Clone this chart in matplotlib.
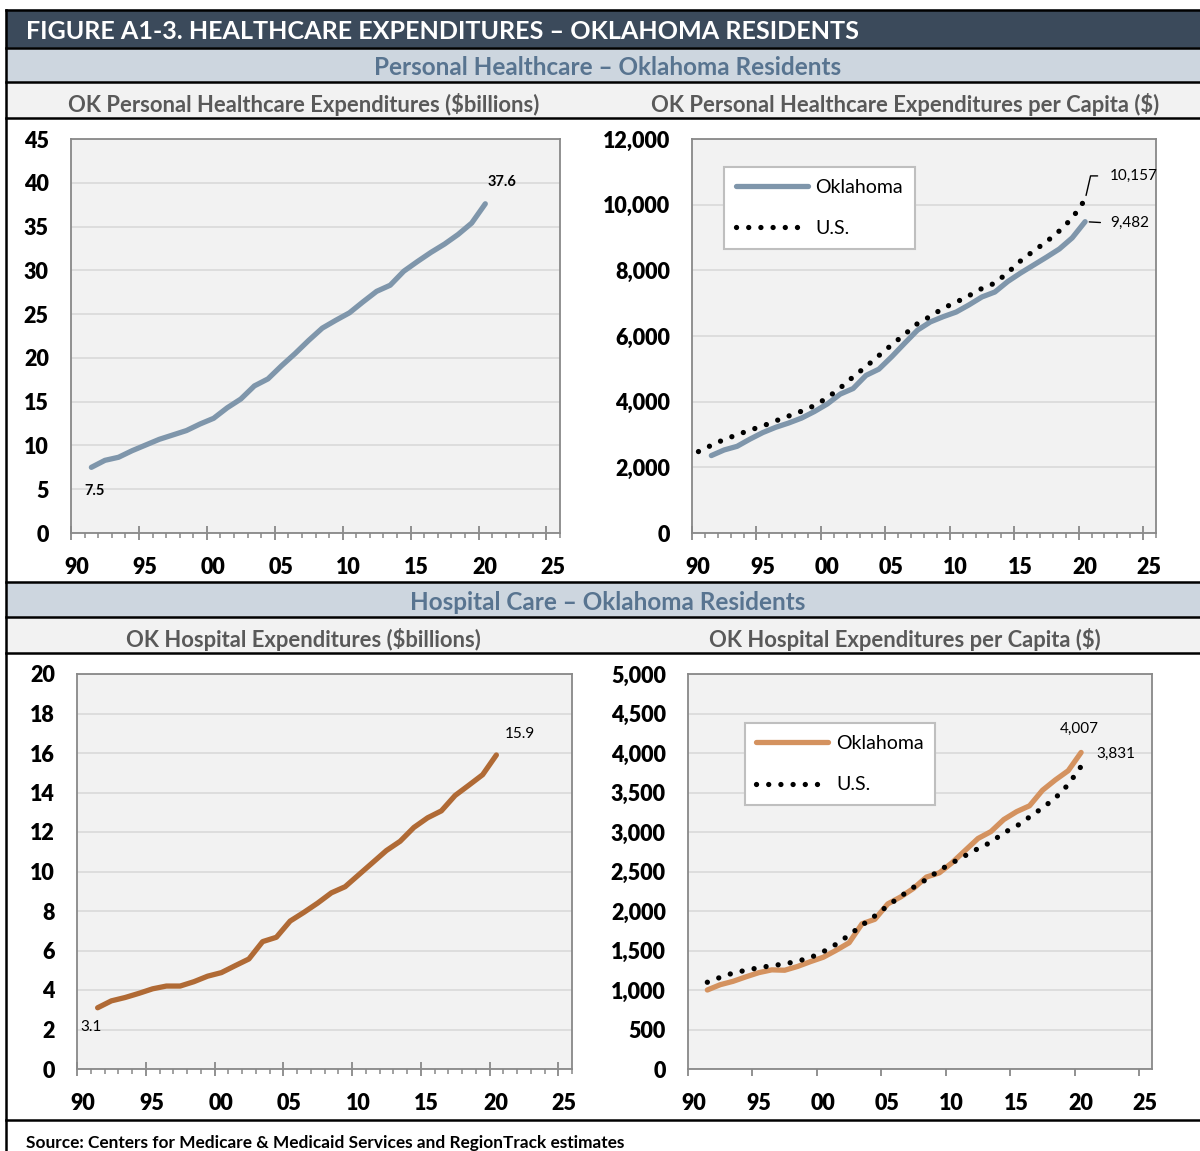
import matplotlib.pyplot as plt
import numpy as np
from matplotlib.patches import Rectangle
from matplotlib.transforms import ScaledTranslation
from matplotlib.ticker import FuncFormatter, MultipleLocator

# ---- data ----
years_ok = np.arange(1991, 2021)
years_us = np.arange(1990, 2021)

ok_total = [7.5, 8.3, 8.65, 9.4, 10.05, 10.7, 11.2, 11.7, 12.45, 13.1,
            14.3, 15.3, 16.8, 17.6, 19.1, 20.5, 22.0, 23.4, 24.3, 25.15,
            26.4, 27.6, 28.3, 29.9, 31.0, 32.05, 33.0, 34.1, 35.4, 37.6]

ok_pc = [2358, 2530, 2640, 2860, 3060, 3220, 3350, 3500, 3700, 3930,
         4230, 4400, 4800, 4990, 5370, 5780, 6180, 6430, 6590, 6730,
         6950, 7190, 7340, 7660, 7920, 8160, 8400, 8650, 8990, 9482]

us_pc = [2480, 2670, 2850, 2990, 3135, 3260, 3416, 3563, 3710, 3880,
         4120, 4418, 4755, 5068, 5404, 5733, 6050, 6380, 6600, 6850,
         7030, 7230, 7450, 7610, 7930, 8290, 8590, 8870, 9200, 9590, 10157]

ok_hosp = [3.1, 3.45, 3.62, 3.83, 4.06, 4.2, 4.2, 4.42, 4.7, 4.88,
           5.23, 5.57, 6.45, 6.67, 7.49, 7.93, 8.4, 8.92, 9.23, 9.84,
           10.45, 11.06, 11.53, 12.23, 12.72, 13.07, 13.85, 14.37, 14.9, 15.9]

ok_hosp_pc = [1000, 1067, 1110, 1167, 1220, 1255, 1250, 1298, 1359, 1415,
              1503, 1598, 1838, 1895, 2090, 2178, 2287, 2430, 2483, 2613,
              2766, 2918, 3005, 3158, 3258, 3332, 3528, 3659, 3776, 4007]

us_hosp_pc = [1098, 1160, 1215, 1250, 1282, 1308, 1330, 1365, 1410, 1485,
              1580, 1695, 1820, 1938, 2068, 2185, 2300, 2400, 2515, 2610,
              2700, 2790, 2870, 2990, 3075, 3190, 3305, 3430, 3600, 3831]

title = 'FIGURE A1-3. HEALTHCARE EXPENDITURES \u2013 OKLAHOMA RESIDENTS'
section1 = 'Personal Healthcare \u2013 Oklahoma Residents'
section2 = 'Hospital Care \u2013 Oklahoma Residents'
sub_titles = ['OK Personal Healthcare Expenditures ($billions)',
              'OK Personal Healthcare Expenditures per Capita ($)',
              'OK Hospital Expenditures ($billions)',
              'OK Hospital Expenditures per Capita ($)']
source = 'Source: Centers for Medicare & Medicaid Services and RegionTrack estimates'

W, H = 1200, 1151
plt.rcParams['font.family'] = ['Lato', 'DejaVu Sans']

fig = plt.figure(figsize=(W / 100, H / 100), dpi=100)

# background layer in pixel coords
bg = fig.add_axes([0, 0, 1, 1])
bg.set_xlim(0, W)
bg.set_ylim(H, 0)
bg.axis('off')

bg.add_patch(Rectangle((6, 10), W - 6, 38, color='#3b4a5b'))
bg.add_patch(Rectangle((6, 48), W - 6, 34, color='#cdd6df'))
bg.add_patch(Rectangle((6, 82), W - 6, 36, color='#f2f2f2'))
bg.add_patch(Rectangle((6, 582), W - 6, 35, color='#cdd6df'))
bg.add_patch(Rectangle((6, 617), W - 6, 36, color='#f2f2f2'))
for yy in [10, 48, 82, 118, 582, 617, 653, 1120]:
    bg.plot([6, W], [yy, yy], color='black', lw=1.8)
bg.plot([6, 6], [10, H], color='black', lw=1.8)

bg.text(26, 31, title, color='white', fontsize=18.1, fontweight='bold', va='center', ha='left')
bg.text(608, 67, section1, color='#587490', fontsize=17.5, fontweight='bold', va='center', ha='center')
bg.text(608, 602, section2, color='#587490', fontsize=17.5, fontweight='bold', va='center', ha='center')
bg.text(304, 104, sub_titles[0], color='#595959', fontsize=15.8, fontweight='bold', va='center', ha='center')
bg.text(905, 104, sub_titles[1], color='#595959', fontsize=15.8, fontweight='bold', va='center', ha='center')
bg.text(303, 639, sub_titles[2], color='#595959', fontsize=15.8, fontweight='bold', va='center', ha='center')
bg.text(905, 639, sub_titles[3], color='#595959', fontsize=15.8, fontweight='bold', va='center', ha='center')
bg.text(26, 1143, source, color='black', fontsize=12.4, fontweight='bold', va='center', ha='left')


def make_axes(l, t, r, b, ymax, ystep, commas=False, minor=True):
    ax = fig.add_axes([l / W, 1 - b / H, (r - l) / W, (b - t) / H])
    ax.set_facecolor('#f2f2f2')
    ax.set_xlim(1990, 2026)
    ax.set_ylim(0, ymax)
    ticks = np.arange(1990, 2026, 5)
    ax.set_xticks(ticks)
    ax.set_xticklabels(['%02d' % (t % 100) for t in ticks])
    ax.yaxis.set_major_locator(MultipleLocator(ystep))
    if commas:
        ax.yaxis.set_major_formatter(FuncFormatter(lambda v, p: f'{v:,.0f}'))
    else:
        ax.yaxis.set_major_formatter(FuncFormatter(lambda v, p: f'{v:.0f}'))
    ax.grid(axis='y', color='#d9d9d9', lw=1.2)
    ax.set_axisbelow(True)
    for s in ax.spines.values():
        s.set_color('#888888')
        s.set_linewidth(1.3)
    ax.tick_params(axis='y', length=0, pad=16, labelsize=15.5)
    if minor:
        ax.xaxis.set_minor_locator(MultipleLocator(1))
        ax.tick_params(axis='x', which='major', direction='inout', length=10,
                       width=1.3, color='#888888', pad=12, labelsize=15.5)
        ax.tick_params(axis='x', which='minor', direction='out', length=3.5,
                       width=1.1, color='#888888')
    else:
        ax.tick_params(axis='x', which='major', direction='out', length=5,
                       width=1.3, color='#888888', pad=12, labelsize=15.5)
    for lab in ax.get_xticklabels() + ax.get_yticklabels():
        lab.set_fontweight('heavy')
    shift = ScaledTranslation(0.06, 0, fig.dpi_scale_trans)
    for lab in ax.get_xticklabels():
        lab.set_transform(lab.get_transform() + shift)
    return ax


dotted = dict(color='black', lw=3.8, linestyle=(0, (0.01, 2.3)), dash_capstyle='round')
blue = '#7f96ab'
leg_opts = dict(loc='upper left', borderaxespad=0, fontsize=14, frameon=True, fancybox=False,
                edgecolor='#bfbfbf', facecolor='white', framealpha=1,
                handlelength=3.7, handletextpad=0.4, labelspacing=1.25, borderpad=0.6)

# top left
ax1 = make_axes(71, 139, 560, 533, 45, 5)
ax1.plot(years_ok + 0.5, ok_total, color=blue, lw=3.8, solid_capstyle='round')
ax1.annotate('37.6', (years_ok[-1] + 0.5, ok_total[-1]), xytext=(12, 16), textcoords='offset points',
             ha='center', va='center', fontsize=10.5, fontweight='bold')
ax1.annotate('7.5', (years_ok[0] + 0.5, ok_total[0]), xytext=(2, -17), textcoords='offset points',
             ha='center', va='center', fontsize=10.5, fontweight='bold')

# top right
ax2 = make_axes(692, 139, 1156, 533, 12000, 2000, commas=True)
ax2.plot(years_ok + 0.5, ok_pc, color=blue, lw=3.8, solid_capstyle='round', label='Oklahoma')
ax2.plot(years_us + 0.5, us_pc, label='U.S.', **dotted)
ax2.annotate('10,157', (years_us[-1] + 0.5, us_pc[-1]), xytext=(18, 17), textcoords='offset points',
             ha='left', va='center', fontsize=11,
             arrowprops=dict(arrowstyle='-', color='black', lw=1, relpos=(0, 0.5), shrinkA=7, shrinkB=3,
                             connectionstyle='angle,angleA=0,angleB=77,rad=0'))
ax2.annotate('9,482', (years_ok[-1] + 0.5, ok_pc[-1]), xytext=(18, -1), textcoords='offset points',
             ha='left', va='center', fontsize=11,
             arrowprops=dict(arrowstyle='-', color='black', lw=1, relpos=(0, 0.5), shrinkA=5, shrinkB=3))
leg = ax2.legend(bbox_to_anchor=(0.069, 0.929), **leg_opts)
leg.get_frame().set_linewidth(1.5)

# bottom left
ax3 = make_axes(77, 674, 572, 1069, 20, 2)
ax3.plot(years_ok + 0.5, ok_hosp, color='#b06a35', lw=3.8, solid_capstyle='round')
ax3.annotate('15.9', (years_ok[-1] + 0.5, ok_hosp[-1]), xytext=(17, 15), textcoords='offset points',
             ha='center', va='center', fontsize=11)
ax3.annotate('3.1', (years_ok[0] + 0.5, ok_hosp[0]), xytext=(-5, -14), textcoords='offset points',
             ha='center', va='center', fontsize=11)

# bottom right
ax4 = make_axes(688, 674, 1152, 1069, 5000, 500, commas=True, minor=False)
ax4.plot(years_ok + 0.5, ok_hosp_pc, color='#d4925f', lw=3.8, solid_capstyle='round', label='Oklahoma')
ax4.plot(years_ok + 0.5, us_hosp_pc, label='U.S.', **dotted)
ax4.annotate('4,007', (years_ok[-1] + 0.5, ok_hosp_pc[-1]), xytext=(-1, 17), textcoords='offset points',
             ha='center', va='center', fontsize=11)
ax4.annotate('3,831', (years_ok[-1] + 0.5, us_hosp_pc[-1]), xytext=(25, 9), textcoords='offset points',
             ha='center', va='center', fontsize=11)
leg = ax4.legend(bbox_to_anchor=(0.122, 0.875), **leg_opts)
leg.get_frame().set_linewidth(1.5)

fig.savefig('out.png', dpi=100)
